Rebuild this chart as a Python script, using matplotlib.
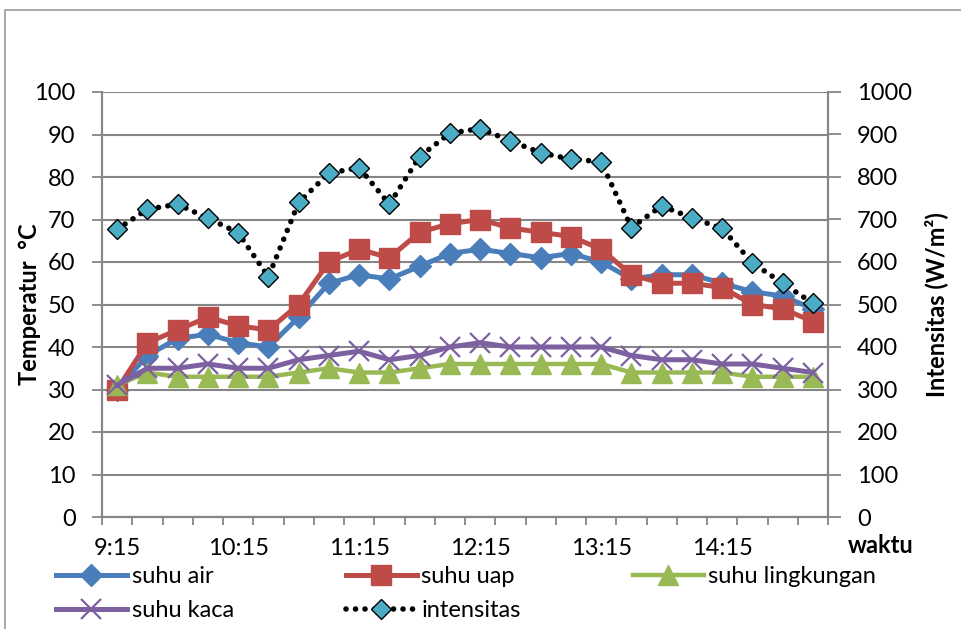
import matplotlib
matplotlib.use("Agg")
import matplotlib.pyplot as plt
from matplotlib.patches import Rectangle

plt.rcParams["font.family"] = ["Lato", "DejaVu Sans"]

# data (one reading every 15 minutes, 9:15 - 15:00)
times = ["9:15", "9:30", "9:45", "10:00", "10:15", "10:30", "10:45", "11:00",
         "11:15", "11:30", "11:45", "12:00", "12:15", "12:30", "12:45", "13:00",
         "13:15", "13:30", "13:45", "14:00", "14:15", "14:30", "14:45", "15:00"]
suhu_air = [30, 38, 42, 43, 41, 40, 47, 55, 57, 56, 59, 62, 63, 62, 61, 62,
            60, 56, 57, 57, 55, 53, 52, 49]
suhu_uap = [30, 41, 44, 47, 45, 44, 50, 60, 63, 61, 67, 69, 70, 68, 67, 66,
            63, 57, 55, 55, 54, 50, 49, 46]
suhu_lingkungan = [31, 34, 33, 33, 33, 33, 34, 35, 34, 34, 35, 36, 36, 36, 36, 36,
                   36, 34, 34, 34, 34, 33, 33, 33]
suhu_kaca = [31, 35, 35, 36, 35, 35, 37, 38, 39, 37, 38, 40, 41, 40, 40, 40,
             40, 38, 37, 37, 36, 36, 35, 34]
intensitas = [677, 724, 736, 703, 669, 565, 740, 809, 822, 736, 848, 903, 914, 885,
              857, 842, 836, 681, 732, 704, 679, 598, 550, 503]
label_every = 4

GRID = "#868686"
FS = 17

fig = plt.figure(figsize=(9.61, 6.29), dpi=100)
fig.patches.append(Rectangle((5 / 961, -0.2), 1.2, 1.2 - 10 / 629,
                             transform=fig.transFigure, fill=False,
                             edgecolor="#9a9a9a", lw=1.2))
ax = fig.add_axes([102 / 961, 1 - 517 / 629, 726 / 961, 425 / 629])
ax2 = ax.twinx()

x = list(range(len(times)))
l1, = ax.plot(x, suhu_air, color="#4A7EBB", lw=3.6, marker="D", ms=11,
              label="suhu air")
l2, = ax.plot(x, suhu_uap, color="#BE4B48", lw=3.6, marker="s", ms=14,
              label="suhu uap")
l3, = ax.plot(x, suhu_lingkungan, color="#98B954", lw=3.2, marker="^", ms=14,
              label="suhu lingkungan")
l4, = ax.plot(x, suhu_kaca, color="#7D60A0", lw=3.6, marker="x", ms=14, mew=1.6,
              label="suhu kaca")
l5, = ax2.plot(x, intensitas, color="black", lw=4, linestyle=(0, (0.01, 1.7)),
               dash_capstyle="round", marker="D", ms=10.5, mfc="#4BACC6",
               mec="black", mew=1.0, label="intensitas")

ax.set_xlim(-0.5, len(times) - 0.5)
ax.set_ylim(0, 100)
ax2.set_ylim(0, 1000)
ax.set_yticks(range(0, 101, 10))
ax2.set_yticks(range(0, 1001, 100))

ax.set_xticks(x[::label_every])
ax.set_xticklabels(times[::label_every])
ax.set_xticks([i - 0.5 for i in range(len(times) + 1)], minor=True)
ax.tick_params(axis="x", which="major", length=0, pad=15, labelsize=FS)
ax.tick_params(axis="x", which="minor", length=6, width=1.3, color=GRID)
ax.tick_params(axis="y", length=7, width=1.3, color=GRID, pad=12, labelsize=FS)
ax2.tick_params(axis="y", length=9, width=1.3, color=GRID, pad=12, labelsize=FS)

ax.grid(axis="y", color=GRID, lw=1.5)
ax.set_axisbelow(True)
for a in (ax, ax2):
    a.spines["top"].set_visible(False)
    for s in ("left", "right", "bottom"):
        a.spines[s].set_color(GRID)
        a.spines[s].set_linewidth(1.5)

ax.set_ylabel("Temperatur  °C", fontsize=FS, fontweight="bold")
ax.yaxis.set_label_coords(-0.084, 0.5)
ax2.set_ylabel("Intensitas (W/m²)", fontsize=FS, fontweight="bold")
ax2.yaxis.set_label_coords(1.132, 0.5)
ax.set_xlabel("waktu", fontsize=FS, fontweight="bold", ha="center", va="center")
ax.xaxis.set_label_coords(1.072, -0.066)

fig.legend([l1, l4, l2, l5, l3],
           ["suhu air", "suhu kaca", "suhu uap", "intensitas", "suhu lingkungan"],
           ncol=3, loc="upper left", bbox_to_anchor=(56 / 961, 1 - 566 / 629),
           frameon=False, fontsize=FS, handlelength=3.0, handletextpad=0.2,
           columnspacing=4.75, labelspacing=0.55, borderaxespad=0, borderpad=0)

fig.savefig("out.png", dpi=100)
